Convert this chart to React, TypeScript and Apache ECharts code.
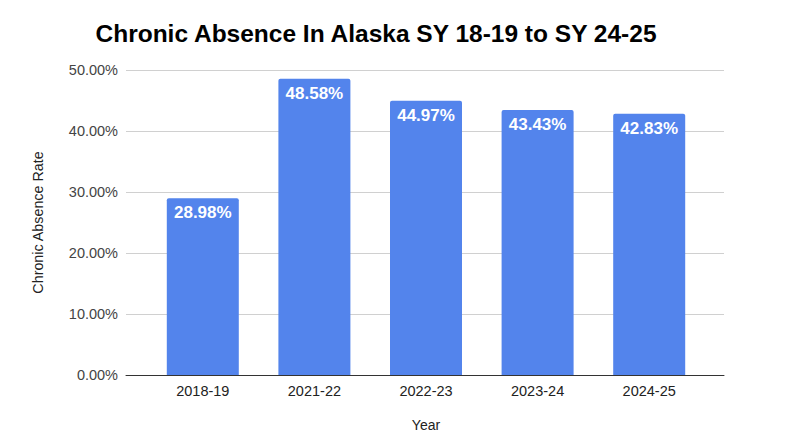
import { useEffect, useRef } from "react";
import * as echarts from "echarts";

const years = ["2018-19", "2021-22", "2022-23", "2023-24", "2024-25"];
const absenceRates = [28.98, 48.58, 44.97, 43.43, 42.83];
const yTicks = { min: 0, max: 50, interval: 10 };

const FONT = "'Liberation Sans', Arial, sans-serif";

export default function App() {
  const chartRef = useRef<HTMLDivElement>(null);

  useEffect(() => {
    if (!chartRef.current) return;
    const chart = echarts.init(chartRef.current, undefined, { renderer: "svg" });

    // the div sits at (8, 8) because of the body margin
    const option = {
      animation: false,
      backgroundColor: "#ffffff",
      textStyle: { fontFamily: FONT },
      title: {
        text: "Chronic Absence In Alaska SY 18-19 to SY 24-25",
        left: 363,
        textAlign: "center",
        top: 8,
        textStyle: { fontFamily: FONT, fontSize: 24.5, fontWeight: "bold", color: "#000000" },
      },
      grid: [
        // backdrop grid: gridlines and y labels span wider than the bars
        { left: 118, right: 68, top: 62, bottom: 65 },
        // bar grid
        { left: 139, right: 87, top: 62, bottom: 65 },
      ],
      xAxis: [
        {
          type: "category",
          gridIndex: 0,
          data: years,
          axisLine: { show: true, lineStyle: { color: "#333333", width: 1 } },
          axisTick: { show: false },
          axisLabel: { show: false },
        },
        {
          type: "category",
          gridIndex: 1,
          data: years,
          name: "Year",
          nameLocation: "middle",
          nameGap: 43,
          nameTextStyle: { fontFamily: FONT, fontSize: 14, color: "#222222" },
          axisLine: { show: false },
          axisTick: { show: false },
          axisLabel: { fontFamily: FONT, fontSize: 14.5, color: "#222222", margin: 8 },
        },
      ],
      yAxis: [
        {
          type: "value",
          gridIndex: 0,
          ...yTicks,
          name: "Chronic Absence Rate",
          nameLocation: "middle",
          nameGap: 81,
          nameTextStyle: { fontFamily: FONT, fontSize: 14.3, color: "#222222" },
          axisLine: { show: false },
          axisTick: { show: false },
          axisLabel: {
            fontFamily: FONT,
            fontSize: 14.5,
            color: "#444444",
            margin: 8,
            formatter: (v: number) => v.toFixed(2) + "%",
          },
          splitLine: { lineStyle: { color: "#d0d0d0", width: 1 } },
        },
        {
          type: "value",
          gridIndex: 1,
          ...yTicks,
          axisLine: { show: false },
          axisTick: { show: false },
          axisLabel: { show: false },
          splitLine: { show: false },
        },
      ],
      series: [
        {
          type: "bar",
          xAxisIndex: 1,
          yAxisIndex: 1,
          data: absenceRates,
          barWidth: 72,
          z: 5,
          itemStyle: { color: "#5384EC", borderRadius: [2, 2, 0, 0] },
          label: {
            show: true,
            position: "insideTop",
            distance: 6,
            fontFamily: FONT,
            fontSize: 17,
            fontWeight: "bold",
            color: "#ffffff",
            formatter: (p: any) => p.value.toFixed(2) + "%",
          },
        },
      ],
    };

    chart.setOption(option);
    return () => chart.dispose();
  }, []);

  return <div ref={chartRef} style={{ width: 784, height: 432 }} />;
}
